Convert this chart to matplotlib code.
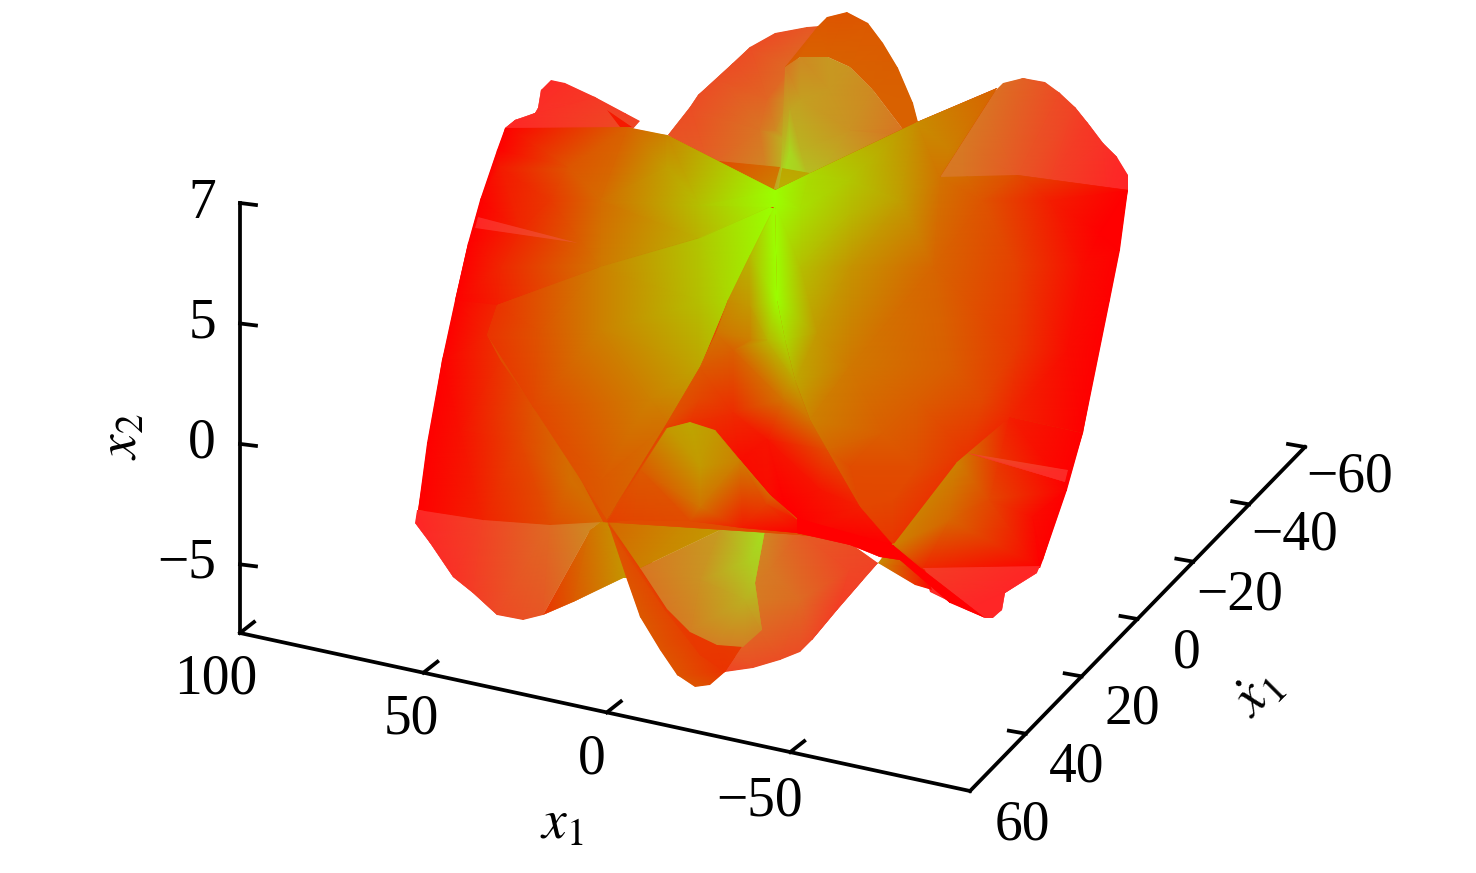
import numpy as np
import matplotlib
matplotlib.use('Agg')
import matplotlib.pyplot as plt
from matplotlib.colors import LinearSegmentedColormap
from matplotlib.patches import Polygon

plt.rcParams['font.family'] = ['Liberation Serif', 'DejaVu Serif']
plt.rcParams['mathtext.fontset'] = 'stix'

# axis labels and ticks
x1_ticks = [100, 50, 0, -50]
x1_labels = ['100', '50', '0', '\u221250']
x1_range = [100, -99]
xdot_ticks = [60, 40, 20, 0, -20, -40, -60]
xdot_labels = ['60', '40', '20', '0', '\u221220', '\u221240', '\u221260']
x2_ticks = [0, 1, 2, 3]
x2_labels = ['\u22125', '0', '5', '7']
x2_range = [-0.57, 3]

# surface pieces: (pixel x, pixel y, colour value 0 red .. 1 green)
# *_in lists are extra colour samples inside a piece, the others are its outline
mid_back = [(668,135,.22),(690,107,.2),(698,95,.2),(733,63,.2),(750,47,.2),(775,33,.2),(807,27,.25),(820,26,.25),
            (792,67,.35),(790,196,1.0),(770,196,.55),(708,165,.3)]
mid_back_in = [(720,80,.22),(767,100,.33),(787,100,.55),(760,130,.4),(775,130,.5),(790,140,.8)]
mid_band = [(818,26,.35),(827,17,.34),(847,12,.33),(868,23,.35),(883,43,.36),(898,68,.37),(913,103,.38),(918,122,.38),
            (905,135,.4),(902,128,.38),(873,90,.38),(850,67,.38),(828,57,.38),(800,57,.38),(785,67,.36)]
mid_lobe = [(785,67,.4),(800,57,.5),(828,57,.58),(850,67,.56),(873,90,.5),(902,128,.4),(905,135,.38),
            (810,185,.8),(780,192,.95)]
mid_lobe_in = [(800,100,.62),(830,90,.58),(790,150,.9),(800,150,.72),(850,130,.55),(790,110,.65)]
cap_left = [(505,128,.0),(515,120,.02),(535,113,.05),(538,108,.05),(541,90,.03),(551,80,.02),
            (565,83,.05),(595,97,.1),(625,113,.12),(640,121,.15),(632,130,.2),(505,130,.0)]
cap_left_sliver = [(607,110,.1),(632,127,.1),(620,127,.1)]
cap_right = [(940,177,.42),(950,160,.42),(963,138,.42),(983,103,.4),(1003,83,.36),(1023,78,.3),(1045,82,.22),
             (1060,93,.18),(1075,107,.15),(1087,122,.1),(1103,143,.06),(1117,157,.02),(1128,175,.0),(1128,192,.0),
             (1108,192,.02),(1050,180,.15),(1017,177,.25),(963,177,.4)]
top_tri_a = [(708,160,.26),(780,167,.45),(773,192,.5)]
top_tri_b = [(782,168,.65),(810,173,.65),(778,192,.7)]
low_left_back = [(417,510,0),(415,523,0),(430,543,.03),(453,577,.06),(473,593,.12),(497,615,.18),
                 (523,620,.22),(543,615,.25),(590,530,.5),(603,520,.5),(483,518,.15),(550,523,.35)]
low_left_wedge = [(605,518,.55),(612,520,.55),(632,578,.58),(623,578,.58),(573,602,.35),(543,615,.2),(590,530,.45)]
low_right_back = [(762,530,.5),(800,533,.28),(850,543,.2),(878,563,.15),(863,580,.15),(837,610,.12),
                  (812,640,.18),(800,652,.2),(780,660,.2),(753,668,.2),(725,672,.15),(712,640,.3),(740,600,.45)]
low_right_back_in = [(770,570,.42),(800,600,.35),(850,570,.17)]
tail = [(607,520,.32),(627,580,.33),(640,617,.35),(660,650,.33),(677,675,.33),(695,687,.33),(710,685,.3),
        (725,672,.2),(735,657,.2),(700,620,.2),(650,560,.25)]
tail_band = [(607,523,.3),(640,565,.22),(667,607,.22),(690,630,.22),(717,645,.22),(743,645,.24),
             (735,657,.22),(725,672,.2),(700,655,.22),(665,610,.25),(630,560,.3)]
low_wedge = [(607,520,.4),(690,519,.55),(743,526,.62),(765,528,.75),(720,530,.6),(640,568,.5)]
low_lobe = [(640,568,.4),(720,530,.6),(765,530,.95),(755,583,.8),(762,630,.5),(743,647,.45),
            (717,645,.45),(690,632,.45),(667,609,.42)]
low_lobe_in = [(700,580,.55),(750,560,.85),(745,600,.7)]
left_low = [(468,243,0),(455,300,0),(442,360,0),(427,443,0),(418,510,0),(483,520,.14),(550,525,.3),(603,522,.42),
            (565,450,.42),(533,407,.33),(500,360,.2),(487,335,.15),(497,305,.15),(520,250,.2)]
left_low_in = [(520,440,.27),(570,480,.43),(460,430,.07)]
left_wing = [(505,128,0),(627,127,.38),(667,135,.52),(775,190,1),(780,190,1),(780,207,1),(770,207,.98),(700,238,.7),
             (600,267,.47),(497,305,.12),(455,300,0),(468,243,0),(480,200,0),(497,150,0)]
left_wing_in = [(500,167,.1),(567,167,.33),(667,167,.62),(600,200,.42),(550,200,.22),(700,205,.75),(500,267,.15),(520,230,.15)]
left_lobe = [(497,305,.2),(600,267,.5),(700,238,.78),(770,207,1),(778,210,1),(728,300,.85),
             (700,367,.65),(667,423,.45),(607,520,.35),(533,407,.28),(487,335,.2)]
left_lobe_in = [(600,330,.5),(540,330,.33),(650,400,.5),(600,480,.35),(700,300,.75)]
centre = [(775,205,1),(777,300,1),(785,340,.85),(795,380,.65),(810,420,.45),(827,450,.3),(860,507,.12),(893,545,0),
          (797,533,0),(797,518,0),(770,495,.05),(740,460,.05),(690,422,.2),(665,428,.25),(607,520,.3),
          (667,423,.3),(700,367,.35),(716,333,.45),(728,300,.55),(750,255,.72),(770,215,.95)]
centre_in = [(750,307,.6),(733,350,.38),(750,340,.5),(767,340,.7),(700,400,.27),(733,413,.17),(767,440,.08),(783,400,.45),
             (783,500,0),(820,490,.08)]
right_wing = [(775,190,1),(810,173,.85),(917,122,.55),(997,88,.38),(940,177,.45),(1017,175,.3),(1128,190,0),
              (1120,250,0),(1110,300,0),(1083,433,0),(1010,417,.15),(967,455,.2),(893,545,.2),(860,507,.28),
              (827,450,.4),(810,420,.5),(795,380,.65),(785,340,.85),(777,300,1),(775,205,1)]
right_wing_in = [(900,200,.62),(983,200,.33),(1050,200,.12),(1100,233,0),(850,267,.58),(933,267,.4),(1017,267,.25),(1083,267,.05),
                 (800,267,.75),(800,210,.88),(850,215,.72),(850,180,.78),(950,150,.5),(817,333,.6),(850,367,.47),(883,433,.37),
                 (917,400,.37),(950,367,.37),(1017,350,.22),(1067,350,.05),(983,400,.28),(917,467,.3),(893,500,.28),(850,467,.3)]
right_low = [(893,545,.5),(957,462,.5),(1010,417,.12),(1083,433,0),(1067,490,0),(1043,560,0),(1040,568,0),(923,570,.15)]
right_low_in = [(990,500,.28),(1033,517,.05),(950,520,.4)]
cap_low_right = [(923,568,.12),(1040,566,0),(1037,573,0),(1005,593,0),(1002,610,0),(993,618,0),
                 (985,618,0),(967,610,0),(930,592,.02)]
lobe_centre = [(607,522,.25),(640,470,.35),(667,428,.6),(690,422,.65),(715,430,.6),(740,460,.5),(770,495,.4),
               (797,520,.08),(797,533,0),(743,528,.1),(690,521,.3),(633,520,.28)]
lobe_centre_in = [(700,467,.6),(700,507,.45),(767,505,.25)]
olive_sliver = [(878,563,.55),(893,543,.5),(925,570,.1),(932,590,0),(915,585,.2)]
red_sliver = [(797,518,0),(893,545,0),(923,570,0),(985,618,0),(950,603,0),(900,560,0),(880,557,0),(850,545,0),(797,533,0)]
stripe_left = [(478,217,0),(475,228,0),(578,243,.3)]
stripe_right = [(967,453,.25),(1068,470,.02),(1065,482,.02),(1035,473,.05)]
front_base = [(505,128,.3),(667,135,.3),(775,190,.3),(917,122,.3),(997,88,.3),(940,177,.3),(1128,190,.3),(1083,433,.3),
              (1043,560,.3),(923,570,.3),(893,545,.3),(800,535,.3),(603,522,.3),(418,510,.3),(442,360,.3)]

front_cmap = LinearSegmentedColormap.from_list('front', [(1, 0, 0), (155/255, 1, 0)])
back_cmap = LinearSegmentedColormap.from_list('back', [(1, 38/255, 38/255), (160/255, 235/255, 30/255)])


def draw_piece(ax, pts, cmap, inner=()):
    p = np.array(pts, dtype=float)
    all_p = np.array(list(pts) + list(inner), dtype=float)
    mesh = ax.tripcolor(all_p[:, 0], all_p[:, 1], all_p[:, 2], shading='gouraud', cmap=cmap, vmin=0, vmax=1)
    mesh.set_clip_path(Polygon(p[:, :2], closed=True, transform=ax.transData))


fig = plt.figure(figsize=(14.76, 8.73), dpi=100)
ax = fig.add_axes([0, 0, 1, 1])
ax.set_xlim(0, 1476)
ax.set_ylim(873, 0)
ax.axis('off')

# back to front
draw_piece(ax, mid_back, back_cmap, mid_back_in)
draw_piece(ax, mid_band, front_cmap)
draw_piece(ax, mid_lobe, back_cmap, mid_lobe_in)
draw_piece(ax, cap_left, back_cmap)
draw_piece(ax, cap_left_sliver, front_cmap)
draw_piece(ax, cap_right, back_cmap)
draw_piece(ax, top_tri_a, front_cmap)
draw_piece(ax, top_tri_b, front_cmap)
draw_piece(ax, low_left_back, back_cmap)
draw_piece(ax, low_left_wedge, front_cmap)
draw_piece(ax, low_right_back, back_cmap, low_right_back_in)
draw_piece(ax, tail, front_cmap)
draw_piece(ax, tail_band, front_cmap)
draw_piece(ax, low_lobe, back_cmap, low_lobe_in)
draw_piece(ax, low_wedge, front_cmap)
draw_piece(ax, front_base, front_cmap)
draw_piece(ax, left_low, front_cmap, left_low_in)
draw_piece(ax, left_wing, front_cmap, left_wing_in)
draw_piece(ax, left_lobe, front_cmap, left_lobe_in)
draw_piece(ax, right_wing, front_cmap, right_wing_in)
draw_piece(ax, centre, front_cmap, centre_in)
draw_piece(ax, right_low, front_cmap, right_low_in)
draw_piece(ax, cap_low_right, back_cmap)
draw_piece(ax, olive_sliver, front_cmap)
draw_piece(ax, lobe_centre, front_cmap, lobe_centre_in)
draw_piece(ax, red_sliver, front_cmap)
draw_piece(ax, stripe_left, back_cmap)
draw_piece(ax, stripe_right, back_cmap)

lw = 2.7
fs = 40
x1_px = lambda v: np.interp(v, [-99, 100], [970, 240])
x1_py = lambda v: np.interp(v, [-99, 100], [791, 633])
yd_px = lambda v: np.interp(v, [-60, 60], [1305, 970])
yd_py = lambda v: np.interp(v, [-60, 60], [447, 791])
x2_py = lambda v: np.interp(v, [-0.57, 3], [633, 203])

# axis frame
ax.plot([240, 240], [x2_py(x2_range[1]), x2_py(x2_range[0])], color='k', lw=lw, solid_capstyle='projecting')
ax.plot([x1_px(x1_range[0]), x1_px(x1_range[1])], [x1_py(x1_range[0]), x1_py(x1_range[1])], color='k', lw=lw)
ax.plot([yd_px(60), yd_px(-60)], [yd_py(60), yd_py(-60)], color='k', lw=lw)

for v, lab, ly in zip(x2_ticks, x2_labels, [563, 443, 323, 204]):
    ax.plot([240, 256], [x2_py(v), x2_py(v) + 2], color='k', lw=lw)
    ax.text(216, ly, lab, fontsize=fs, ha='right', va='center')
for v, lab, lx, ly in zip(x1_ticks, x1_labels, [216, 411, 592, 760], [680, 720, 760, 801]):
    ax.plot([x1_px(v), x1_px(v) + 14], [x1_py(v), x1_py(v) - 11], color='k', lw=lw)
    ax.text(lx, ly, lab, fontsize=fs, ha='center', va='center')
for v, lab, lx, ly in zip(xdot_ticks, xdot_labels, [1022, 1077, 1132, 1187, 1240, 1295, 1350],
                          [826, 768, 710, 653, 595, 536, 477]):
    if v != 60:
        ax.plot([yd_px(v), yd_px(v) - 17], [yd_py(v), yd_py(v) - 3], color='k', lw=lw)
    ax.text(lx, ly, lab, fontsize=fs, ha='center', va='center')

ax.text(562, 825, '$x_1$', fontsize=fs, ha='center', va='center')
ax.text(122, 437, '$x_2$', fontsize=fs, rotation=90, ha='center', va='center')
ax.text(1258, 695, r'$\dot{x}_1$', fontsize=fs, rotation=45, ha='center', va='center')

fig.savefig('out.png', dpi=100)
